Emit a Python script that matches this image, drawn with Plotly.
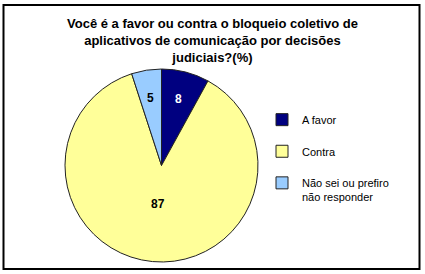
import math
import plotly.graph_objects as go

categories = ["A favor", "Contra", "Não sei ou prefiro<br>não responder"]
values = [8, 87, 5]
colors = ["#000080", "#FFFF99", "#99CCFF"]
text_colors = ["white", "black", "black"]
title_text = ("Você é a favor ou contra o bloqueio coletivo de<br>"
              "aplicativos de comunicação por decisões<br>judiciais?(%)")

W, H = 425, 274
FONT = "Liberation Sans, Arial"
# pie placement (pixels)
cx, cy, R = 161.5, 165.5, 96.5

legend_labels = [c if "<br>" in c else c + "<br> " for c in categories]

fig = go.Figure(go.Pie(
    labels=legend_labels,
    values=values,
    sort=False,
    direction="clockwise",
    rotation=0,
    marker=dict(colors=colors, line=dict(color="#222222", width=1)),
    textinfo="none",
    domain=dict(x=[(cx - R) / W, (cx + R) / W], y=[(H - cy - R) / H, (H - cy + R) / H]),
    hoverinfo="label+value",
))

# value labels placed along each slice's bisector (Excel-like placement)
annotations = []
total = sum(values)
cum = 0
for v, tc in zip(values, text_colors):
    mid = (cum + v / 2) / total * 2 * math.pi
    cum += v
    frac = 0.71 if v / total < 0.5 else 0.40
    px = cx + frac * R * math.sin(mid)
    py = cy - frac * R * math.cos(mid)
    annotations.append(dict(
        x=px / W, y=1 - py / H, xref="paper", yref="paper",
        text="<b>%d</b>" % v, showarrow=False, xanchor="center", yanchor="middle",
        font=dict(family=FONT, size=12, color=tc)))

annotations.append(dict(
    x=0.5, y=1 - 14 / H, xref="paper", yref="paper", xanchor="center", yanchor="top",
    text="<b>" + title_text + "</b>", showarrow=False, align="center",
    font=dict(family=FONT, size=13, color="black")))

fig.update_layout(
    width=W, height=H, autosize=False,
    margin=dict(l=0, r=0, t=0, b=0),
    paper_bgcolor="white", plot_bgcolor="white",
    showlegend=True,
    legend=dict(x=262 / W, xanchor="left", y=1 - 106 / H, yanchor="top",
                valign="top", traceorder="normal",
                font=dict(family=FONT, size=11, color="black"),
                bgcolor="rgba(0,0,0,0)"),
    annotations=annotations,
    shapes=[dict(type="rect", xref="paper", yref="paper",
                 x0=3.5 / W, x1=419.5 / W, y0=1 - 269 / H, y1=1 - 5 / H,
                 line=dict(color="black", width=2), fillcolor="rgba(0,0,0,0)")],
)

fig.write_html("out.html")
